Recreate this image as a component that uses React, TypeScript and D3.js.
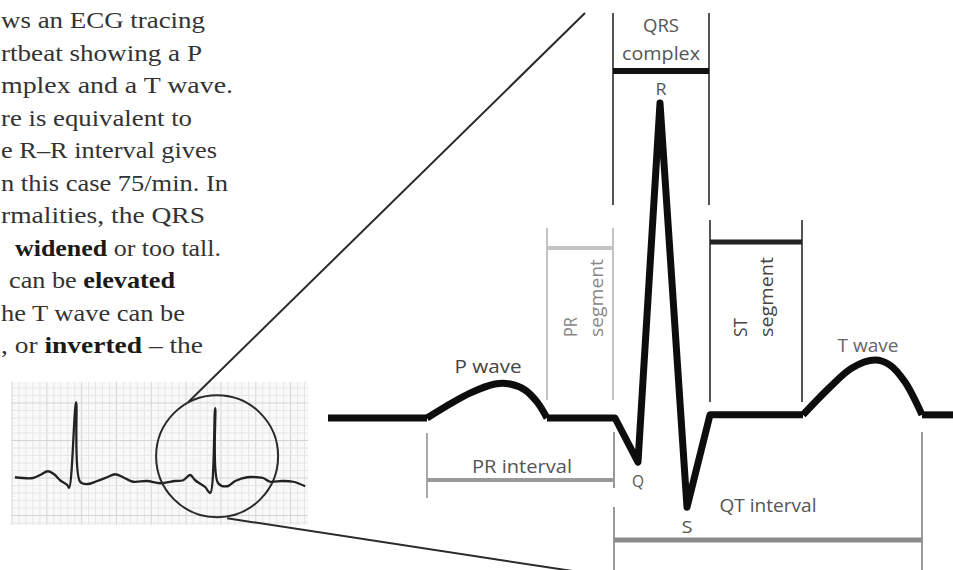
import React, { useEffect, useRef } from 'react';
import * as d3 from 'd3';

// Enlarged beat: time (ms from left edge) and amplitude (fraction of R height)
const leadIn: [number, number][] = [[0, 0], [99, 0]];
const pWave: [number, number][] = [
  [99, 0], [117, 0.035], [142, 0.079], [167, 0.108], [182, 0.108],
  [197, 0.089], [209, 0.051], [219, 0],
];
const qrsComplex: [number, number][] = [
  [219, 0], [287, 0], [310, -0.14], [332, 1], [359, -0.283], [382, 0.01], [475, 0.01],
];
const tWave: [number, number][] = [
  [475, 0.01], [502, 0.098], [524, 0.159], [547, 0.184], [562, 0.168],
  [577, 0.114], [594, 0.01],
];
const tail: [number, number][] = [[594, 0.01], [625, 0.01]];

// Markers (ms)
const qrsSpan = [285, 381];
const prSegment = [219, 285];
const stSegment = [382, 474];
const prInterval = [99, 286];
const qtInterval = [286, 594];

// Small strip: time (ms) and mV
const stripTrace: [number, number][] = [
  [17, 0.01], [121, 0], [161, 0.04], [207, 0.09], [247, 0.04], [276, -0.03],
  [316, -0.09], [328, -0.13], [368, 1.01], [391, -0.05], [437, -0.08], [489, -0.04],
  [546, 0.01], [592, 0.05], [638, 0.01], [695, -0.05], [776, -0.04], [851, -0.07],
  [937, -0.04], [983, -0.03], [1023, 0.04], [1052, -0.03], [1109, -0.12], [1138, -0.2],
  [1167, 0.93], [1184, -0.07], [1236, -0.11], [1282, -0.04], [1351, 0.01], [1408, 0.01],
  [1443, 0], [1483, -0.05], [1552, -0.04], [1615, -0.05], [1684, -0.11],
];

// Paragraph (cut off at the left edge of the page)
const paragraph: [string, boolean][][] = [
  [['ws an ECG tracing', false]],
  [['rtbeat showing a P', false]],
  [['mplex and a T wave.', false]],
  [['re is equivalent to', false]],
  [['e R–R interval gives', false]],
  [['n this case 75/min. In', false]],
  [['rmalities, the QRS', false]],
  [['widened', true], [' or too tall.', false]],
  [['can be ', false], ['elevated', true]],
  [['he T wave can be', false]],
  [[', or ', false], ['inverted', true], [' – the', false]],
];
const paraStart = [1, 1, 1, 1, 1, 1, 1, 15, 9, 1, 1];
const paraEnd = [205, 202, 233, 192, 217, 228, 205, 221, 175, 185, 203];

const SANS = '"Open Sans", "DejaVu Sans", sans-serif';

export default function App() {
  const svgRef = useRef<SVGSVGElement>(null);

  useEffect(() => {
    if (!svgRef.current) return;
    const svg = d3.select(svgRef.current);
    svg.selectAll('*').remove();

    // ---- paragraph
    const para = svg.append('g').attr('font-family', '"Liberation Serif", "DejaVu Serif", serif')
      .attr('font-size', 24).attr('fill', '#2e2e2e');
    paragraph.forEach((parts, i) => {
      const t = para.append('text')
        .attr('x', paraStart[i])
        .attr('y', 28 + i * 32.5)
        .attr('textLength', paraEnd[i] - paraStart[i])
        .attr('lengthAdjust', 'spacingAndGlyphs');
      parts.forEach(([s, b]) => {
        t.append('tspan').attr('font-weight', b ? 'bold' : 'normal')
          .attr('fill', b ? '#1a1a1a' : '#333').text(s);
      });
    });

    // ---- small strip
    const xS = d3.scaleLinear().domain([0, 1700]).range([12, 308]);
    const yS = d3.scaleLinear().domain([0, 1]).range([478, 403]);
    const strip = svg.append('g');
    strip.append('rect').attr('x', 12).attr('y', 382).attr('width', 296).attr('height', 143)
      .attr('fill', '#f9f9f9');
    d3.range(0, 1701, 40).forEach((t, i) => {
      strip.append('line').attr('x1', xS(t)).attr('x2', xS(t)).attr('y1', 382).attr('y2', 525)
        .attr('stroke', i % 5 === 0 ? '#d4d4d4' : '#e6e6e6').attr('stroke-width', 1);
    });
    d3.range(-6, 13).forEach((k) => {
      const y = yS(k / 10);
      if (y < 382 || y > 525) return;
      strip.append('line').attr('x1', 12).attr('x2', 308).attr('y1', y).attr('y2', y)
        .attr('stroke', k % 5 === 0 ? '#d4d4d4' : '#e6e6e6').attr('stroke-width', 1);
    });
    const stripLine = d3.line<[number, number]>().x((d) => xS(d[0])).y((d) => yS(d[1]))
      .curve(d3.curveCatmullRom.alpha(0.5));
    strip.append('path').attr('d', stripLine(stripTrace)).attr('fill', 'none')
      .attr('stroke', '#222').attr('stroke-width', 2.3).attr('stroke-linejoin', 'round');

    // magnifier
    const cx = xS(1178);
    const cy = yS(0.29);
    svg.append('circle').attr('cx', cx).attr('cy', cy).attr('r', 61)
      .attr('fill', 'none').attr('stroke', '#2a2a2a').attr('stroke-width', 2);
    svg.append('line').attr('x1', cx - 29).attr('y1', cy - 54).attr('x2', 585).attr('y2', 13)
      .attr('stroke', '#2a2a2a').attr('stroke-width', 2);
    svg.append('line').attr('x1', cx + 10).attr('y1', cy + 62).attr('x2', 592).attr('y2', 574)
      .attr('stroke', '#2a2a2a').attr('stroke-width', 2);

    // ---- enlarged beat
    const x = d3.scaleLinear().domain([0, 625]).range([328, 953]);
    const y = d3.scaleLinear().domain([0, 1]).range([418, 103]);
    const g = svg.append('g');

    const vline = (t: number, y1: number, y2: number, color: string, w = 2) =>
      g.append('line').attr('x1', x(t)).attr('x2', x(t)).attr('y1', y1).attr('y2', y2)
        .attr('stroke', color).attr('stroke-width', w);
    const hbar = (span: number[], yy: number, color: string, w: number) =>
      g.append('line').attr('x1', x(span[0])).attr('x2', x(span[1])).attr('y1', yy).attr('y2', yy)
        .attr('stroke', color).attr('stroke-width', w);

    // QRS complex bracket
    vline(qrsSpan[0], 13, 205, '#555');
    vline(qrsSpan[1], 13, 205, '#555');
    hbar(qrsSpan, 71, '#111', 6);

    // PR segment
    vline(prSegment[0], 228, 400, '#c4c4c4');
    vline(prSegment[1], 228, 400, '#c4c4c4');
    hbar(prSegment, 248, '#c4c4c4', 4);

    // ST segment
    vline(stSegment[0], 220, 402, '#555');
    vline(stSegment[1], 220, 402, '#555');
    hbar(stSegment, 242, '#222', 5);

    // PR interval
    vline(prInterval[0], 433, 498, '#aaa');
    hbar(prInterval, 480, '#9a9a9a', 4);

    // QT interval
    vline(qtInterval[0], 432, 488, '#999');
    vline(qtInterval[0], 507, 570, '#999');
    vline(qtInterval[1], 432, 570, '#999');
    hbar(qtInterval, 540, '#8a8a8a', 5);

    // trace
    const lin = d3.line<[number, number]>().x((d) => x(d[0])).y((d) => y(d[1]));
    const smooth = d3.line<[number, number]>().x((d) => x(d[0])).y((d) => y(d[1]))
      .curve(d3.curveCatmullRom.alpha(0.5));
    [lin(leadIn), smooth(pWave), lin(qrsComplex), smooth(tWave), lin(tail)].forEach((d) => {
      g.append('path').attr('d', d).attr('fill', 'none').attr('stroke', '#0d0d0d')
        .attr('stroke-width', 7).attr('stroke-linejoin', 'round').attr('stroke-linecap', 'butt');
    });

    // labels
    const label = (txt: string, t: number, yy: number, len: number, color: string, size = 18) =>
      g.append('text').attr('x', x(t)).attr('y', yy).attr('text-anchor', 'middle')
        .attr('font-family', SANS).attr('font-size', size).attr('fill', color)
        .attr('textLength', len).attr('lengthAdjust', 'spacingAndGlyphs').text(txt);

    label('QRS', 333, 32, 36, '#555');
    label('complex', 333, 60, 78, '#555');
    label('R', 333, 95, 11, '#555', 16);
    label('P wave', 160, 373, 67, '#444');
    label('T wave', 540, 352, 61, '#666');
    label('PR interval', 194, 473, 100, '#555');
    label('Q', 310, 487, 12, '#555', 16);
    label('S', 359, 533, 11, '#555', 16);
    label('QT interval', 440, 512, 97, '#555');

    const vlabel = (txt: string, bx: number, len: number, color: string) =>
      g.append('text').attr('transform', `translate(${bx},337) rotate(-90)`)
        .attr('font-family', SANS).attr('font-size', 18).attr('fill', color)
        .attr('textLength', len).attr('lengthAdjust', 'spacingAndGlyphs').text(txt);
    vlabel('PR', 577, 20, '#888');
    vlabel('segment', 603, 78, '#888');
    vlabel('ST', 747, 19, '#444');
    vlabel('segment', 773, 80, '#444');
  }, []);

  return (
    <svg
      ref={svgRef}
      width={953}
      height={570}
      style={{ position: 'absolute', left: 0, top: 0, background: '#fff' }}
    />
  );
}
